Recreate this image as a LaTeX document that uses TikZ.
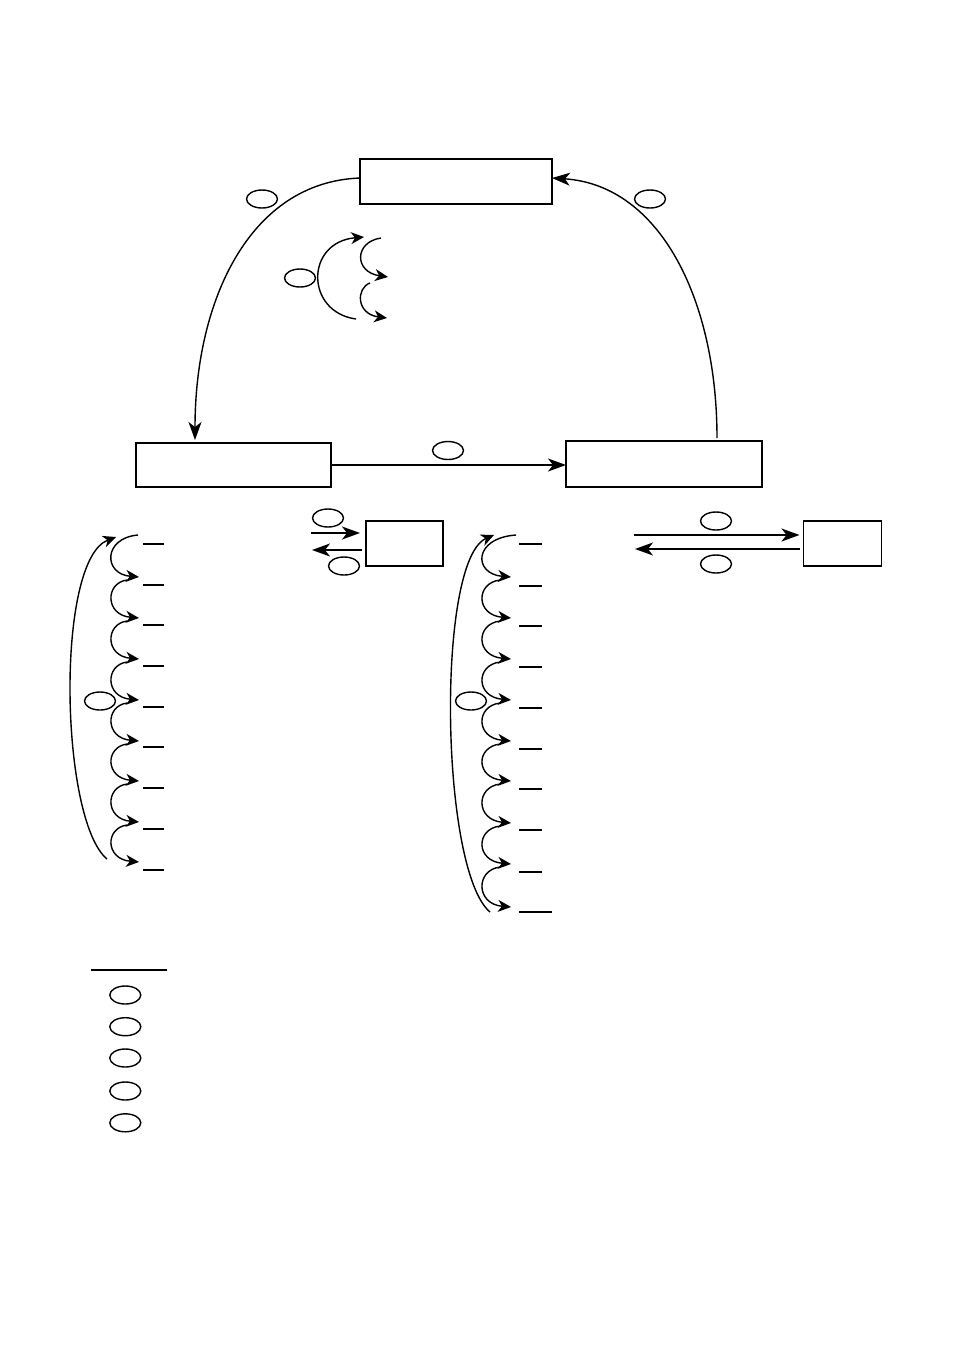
\documentclass[tikz,border=0pt]{standalone}
\usetikzlibrary{arrows.meta,shapes.geometric}
\tikzset{
  boxnode/.style={draw, rectangle, line width=1.8pt, inner sep=0pt, outer sep=0pt},
  lbl/.style={draw, ellipse, line width=1.4pt, minimum width=31pt, minimum height=18pt, inner sep=0pt},
  bigarr/.style={line width=1.4pt, -{Stealth[length=18pt,width=13pt,inset=5pt]}},
  smallarr/.style={line width=1.4pt, -{Stealth[length=13pt,width=12pt,inset=4pt]}},
  plainline/.style={line width=1.4pt},
}
\begin{document}
\begin{tikzpicture}[x=1pt,y=-1pt]
\useasboundingbox[fill=white] (0,0) rectangle (954,1350);

% boxes
\node[boxnode, minimum width=192pt, minimum height=45pt] (top) at (456,181.5) {};
\node[boxnode, minimum width=195pt, minimum height=44pt] (left) at (233.5,465) {};
\node[boxnode, minimum width=196pt, minimum height=46pt] (right) at (664,464) {};
\node[boxnode, minimum width=77pt, minimum height=45pt] (sboxL) at (404.5,543.5) {};
\node[boxnode, minimum width=78pt, minimum height=45pt] (sboxR) at (842.5,543.5) {};

% labels (empty ellipses)
\node[lbl] (e1) at (262,199) {};
\node[lbl] (e2) at (650,199) {};
\node[lbl] (e3) at (300,278) {};
\node[lbl] (e4) at (448,450.5) {};
\node[lbl] (e5) at (328,518) {};
\node[lbl] (e6) at (344,566) {};
\node[lbl] (e7) at (716,521) {};
\node[lbl] (e8) at (716,564) {};
\node[lbl] (e9) at (100,701) {};
\node[lbl] (e10) at (471,701) {};

% main connectors
\draw[bigarr] ([yshift=3.5pt]top.west) .. controls (250,182) and (195,300) .. ([xshift=59pt,yshift=3pt]left.north west);
\draw[bigarr] ([xshift=151pt,yshift=3pt]right.north west) .. controls (717,300) and (660,185) .. ([yshift=3.5pt]top.east);
\draw[bigarr] (left.east) -- (left.east -| right.west);

% small box arrows
\coordinate (aL1) at (311,533);
\coordinate (aL2) at (312,550);
\draw[bigarr] (aL1) -- ([xshift=-6pt,yshift=10.5pt]sboxL.west);
\draw[bigarr] ([xshift=-4pt,yshift=-6.5pt]sboxL.west) -- (aL2);
\coordinate (aR1) at (634,535);
\coordinate (aR2) at (635,549);
\draw[bigarr] (aR1) -- ([xshift=-4pt,yshift=8.5pt]sboxR.west);
\draw[bigarr] ([xshift=-4pt,yshift=-5.5pt]sboxR.west) -- (aR2);

% middle cycle arcs
\coordinate (m0) at (356,319);
\coordinate (m1) at (364,237);
\coordinate (m2) at (381,238);
\coordinate (m3) at (388,277);
\coordinate (m4) at (370,283);
\coordinate (m5) at (387,318);
\draw[smallarr] (m0) .. controls (305,312) and (305,242) .. (m1);
\draw[smallarr] (m2) .. controls (354,242) and (354,272) .. (m3);
\draw[smallarr] (m4) .. controls (356,288) and (356,314) .. (m5);

% left chain
\draw[smallarr] (107,859) .. controls (60,820) and (55,560) .. (116,537);
\draw[smallarr] (138,535) .. controls (103,538) and (103,574) .. (139,577);
\foreach \a/\b in {577/618,618/659,659/700,700/741,741/781,781/822,822/862}{
  \draw[smallarr] (127,\a+3) .. controls (105,\a+6) and (105,\b-3) .. (139,\b);
}
\foreach \y in {544,585,625,666,707,747,788,829,870}{
  \draw[plainline] (143,\y) -- (164,\y);
}

% right chain
\draw[smallarr] (490,912) .. controls (440,870) and (436,560) .. (494,535);
\draw[smallarr] (516,535) .. controls (473,538) and (473,574) .. (511,577);
\foreach \a/\b in {577/618,618/659,659/700,700/741,741/781,781/823,823/864,864/907}{
  \draw[smallarr] (500,\a+3) .. controls (475.5,\a+6) and (475.5,\b-3) .. (511,\b);
}
\foreach \y in {544,586,626,667,708,749,789,830,872}{
  \draw[plainline] (519,\y) -- (542,\y);
}
\draw[plainline] (519,912) -- (552,912);

% legend
\draw[plainline] (91,970) -- (167,970);
\node[lbl] (k1) at (125.3,995) {};
\node[lbl] (k2) at (125.3,1026.7) {};
\node[lbl] (k3) at (125.3,1058) {};
\node[lbl] (k4) at (125.3,1091) {};
\node[lbl] (k5) at (125.3,1122.8) {};
\end{tikzpicture}
\end{document}
